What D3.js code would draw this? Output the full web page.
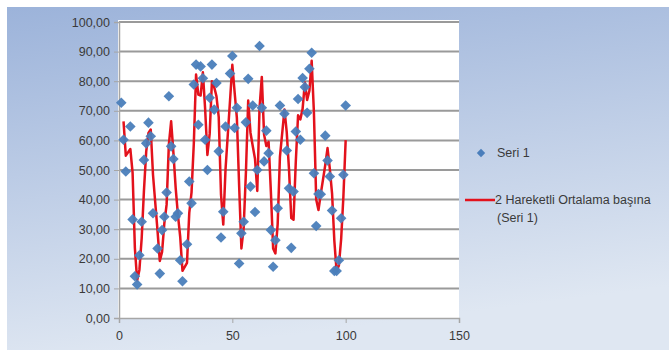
<!DOCTYPE html>
<html>
<head>
<meta charset="utf-8">
<script src="https://cdn.jsdelivr.net/npm/d3@7"></script>
<style>
  body { margin: 0; background: #fff; overflow: hidden; }
  svg text { font-family: "Liberation Sans", Arial, sans-serif; }
</style>
</head>
<body>
<svg id="chart" width="669" height="359"></svg>
<script>
// x values of Seri 1
const xs = [1, 2, 3, 5, 6, 7, 8, 9, 10, 11, 12, 13, 14, 15, 17, 18, 19, 20, 21, 22,
  23, 24, 25, 26, 27, 28, 30, 31, 32, 33, 34, 35, 36, 37, 38, 39, 40, 41, 42, 43,
  44, 45, 46, 47, 49, 50, 51, 52, 53, 54, 55, 56, 57, 58, 59, 60, 61, 62, 63, 64,
  65, 66, 67, 68, 69, 70, 71, 73, 74, 75, 76, 77, 78, 79, 80, 81, 82, 83, 84, 85,
  86, 87, 88, 89, 91, 92, 93, 94, 95, 96, 97, 98, 99, 100];
// y values of Seri 1
const ys = [72.7, 60.2, 49.5, 64.7, 33.3, 14.1, 11.3, 21.2, 32.5, 53.4, 59.0, 66.0, 61.4, 35.4, 23.5, 15.0, 29.7, 34.2, 42.4, 74.9,
  58.0, 53.7, 34.2, 35.4, 19.5, 12.4, 24.9, 46.1, 38.8, 78.9, 85.6, 65.3, 85.0, 81.0, 60.2, 50.0, 74.4, 85.6, 70.4, 79.4,
  56.3, 27.2, 35.9, 64.7, 82.6, 88.5, 64.2, 71.0, 18.4, 28.6, 32.5, 66.1, 80.8, 44.4, 71.8, 35.8, 50.0, 91.9, 71.0, 52.9,
  63.3, 55.7, 29.7, 17.3, 26.3, 37.1, 71.8, 69.0, 56.6, 43.8, 23.7, 42.7, 63.0, 74.0, 60.2, 81.1, 78.0, 69.3, 84.2, 89.6,
  48.9, 31.1, 41.9, 41.8, 61.6, 53.2, 47.8, 36.3, 15.9, 15.9, 19.5, 33.7, 48.4, 71.8];

const xTicks = [0, 50, 100, 150];
const yTicks = [0, 10, 20, 30, 40, 50, 60, 70, 80, 90, 100];
const seriesName = "Seri 1";
const trendName = ["2 Hareketli Ortalama başına", "(Seri 1)"];
const period = 2;

const points = xs.map((x, i) => ({ x: x, y: ys[i] }));

// moving average trendline (period 2)
const avg = [];
for (let i = period - 1; i < points.length; i++) {
  avg.push({ x: points[i].x, y: d3.mean(points.slice(i - period + 1, i + 1), d => d.y) });
}

const svg = d3.select("#chart");

// background gradient
const defs = svg.append("defs");
const grad = defs.append("linearGradient")
  .attr("id", "bg")
  .attr("x1", "0").attr("y1", "0")
  .attr("x2", "0.25").attr("y2", "1");
grad.append("stop").attr("offset", "0%").attr("stop-color", "#9cb3da");
grad.append("stop").attr("offset", "100%").attr("stop-color", "#dfe7f2");

svg.append("rect")
  .attr("x", 7).attr("y", 7)
  .attr("width", 669).attr("height", 343)
  .attr("fill", "url(#bg)");

const margin = { top: 22, left: 119, right: 210, bottom: 41 };
const width = 459 - margin.left;
const height = 318 - margin.top;

const x = d3.scaleLinear().domain([0, 150]).range([0, width]);
const y = d3.scaleLinear().domain([0, 100]).range([height, 0]);

const g = svg.append("g")
  .attr("transform", "translate(" + margin.left + "," + margin.top + ")");

// plot area
g.append("rect")
  .attr("x", -1).attr("y", -2)
  .attr("width", width + 1).attr("height", height + 2)
  .attr("fill", "#ffffff");

// gridlines
g.append("g")
  .selectAll("line")
  .data(yTicks.filter(d => d > 0))
  .join("line")
  .attr("x1", 0).attr("x2", width)
  .attr("y1", d => y(d)).attr("y2", d => y(d))
  .attr("stroke", "#9a9a9a")
  .attr("stroke-width", 2);

// y axis
const fmt = d => d3.format(".2f")(d).replace(".", ",");
const yAxis = g.append("g")
  .call(d3.axisLeft(y).tickValues(yTicks).tickFormat(fmt).tickSize(5).tickPadding(4));
yAxis.select(".domain").attr("stroke", "#a6a6a6").attr("stroke-width", 1.5);
yAxis.selectAll(".tick line").attr("stroke", "#a6a6a6");
yAxis.selectAll("text").attr("fill", "#3a3a3a").style("font-size", "12.5px");

// x axis
const xAxis = g.append("g")
  .attr("transform", "translate(0," + height + ")")
  .call(d3.axisBottom(x).tickValues(xTicks).tickSize(5).tickPadding(8));
xAxis.select(".domain").attr("stroke", "#a6a6a6").attr("stroke-width", 1.5);
xAxis.selectAll(".tick line").attr("stroke", "#a6a6a6");
xAxis.selectAll("text").attr("fill", "#3a3a3a").style("font-size", "12.5px");

// moving average line
g.append("path")
  .datum(avg)
  .attr("fill", "none")
  .attr("stroke", "#e3121c")
  .attr("stroke-width", 2.5)
  .attr("stroke-linejoin", "round")
  .attr("d", d3.line().x(d => x(d.x)).y(d => y(d.y)));

// markers
const diamond = d3.symbol().type(d3.symbolDiamond2).size(72);
g.append("g")
  .selectAll("path")
  .data(points)
  .join("path")
  .attr("transform", d => "translate(" + x(d.x) + "," + y(d.y) + ")")
  .attr("d", diamond)
  .attr("fill", "#4a7ebb")
  .attr("opacity", 0.95);

// legend
const lg = svg.append("g");
lg.append("path")
  .attr("transform", "translate(481,153)")
  .attr("d", d3.symbol().type(d3.symbolDiamond2).size(45))
  .attr("fill", "#4a7ebb");
lg.append("text")
  .attr("x", 497).attr("y", 157)
  .attr("fill", "#3a3a3a").style("font-size", "12.5px")
  .text(seriesName);
lg.append("line")
  .attr("x1", 465).attr("x2", 495)
  .attr("y1", 200).attr("y2", 200)
  .attr("stroke", "#e3121c").attr("stroke-width", 2.5);
lg.append("text")
  .attr("x", 495).attr("y", 204)
  .attr("fill", "#3a3a3a").style("font-size", "12.5px")
  .text(trendName[0]);
lg.append("text")
  .attr("x", 497).attr("y", 222)
  .attr("fill", "#3a3a3a").style("font-size", "12.5px")
  .text(trendName[1]);
</script>
</body>
</html>
